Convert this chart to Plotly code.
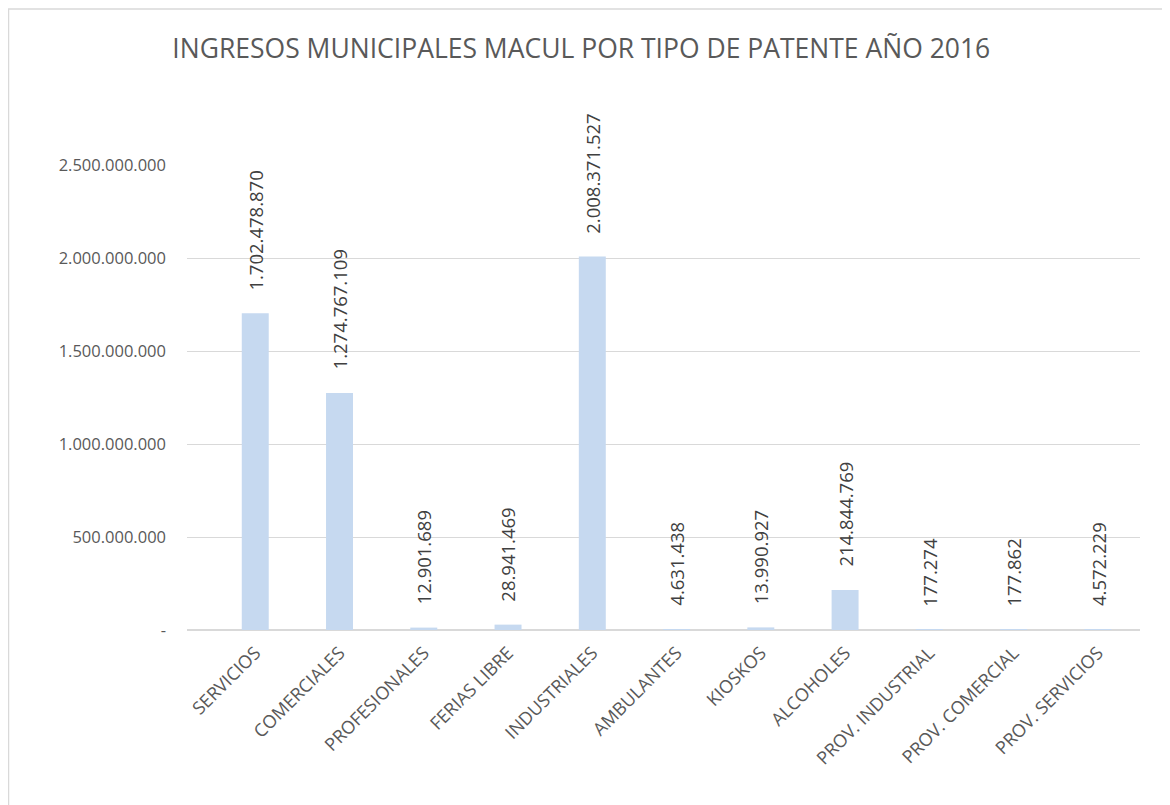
import plotly.graph_objects as go

# datos
categorias = ["SERVICIOS", "COMERCIALES", "PROFESIONALES", "FERIAS LIBRE", "INDUSTRIALES",
              "AMBULANTES", "KIOSKOS", "ALCOHOLES", "PROV. INDUSTRIAL", "PROV. COMERCIAL",
              "PROV. SERVICIOS"]
ingresos = [1702478870, 1274767109, 12901689, 28941469, 2008371527,
            4631438, 13990927, 214844769, 177274, 177862, 4572229]
y_ticks = [0, 500000000, 1000000000, 1500000000, 2000000000, 2500000000]
y_ticktext = ["-", "500.000.000", "1.000.000.000", "1.500.000.000", "2.000.000.000", "2.500.000.000"]


def fmt(v):
    return f"{v:,}".replace(",", ".")


fig = go.Figure()
fig.add_trace(go.Bar(
    x=categorias,
    y=ingresos,
    marker=dict(color="#c6d9f0", line=dict(width=0)),
    hoverinfo="x+y",
))

# etiquetas de datos
for cat, val in zip(categorias, ingresos):
    fig.add_annotation(
        x=cat, y=val, xref="x", yref="y",
        text=fmt(val), textangle=-90, showarrow=False,
        yanchor="bottom", yshift=21,
        font=dict(size=18.5, color="#404040", family="Open Sans"),
    )

# marco del gráfico
fig.add_shape(type="rect", xref="paper", yref="paper",
              x0=-0.1873, x1=1.2, y0=-0.6, y1=1.3355,
              line=dict(color="#d9d9d9", width=1.5), layer="below")

fig.update_layout(
    width=1170, height=805,
    margin=dict(l=179, r=38, t=157, b=183, autoexpand=False),
    paper_bgcolor="white", plot_bgcolor="white",
    title=dict(
        text="INGRESOS MUNICIPALES MACUL POR TIPO DE PATENTE AÑO 2016",
        x=0.49, xanchor="center", y=0.95, yanchor="middle",
        font=dict(size=26.5, family="Open Sans", color="#595959"),
    ),
    font=dict(family="Open Sans", color="#595959"),
    bargap=0.68,
    showlegend=False,
    xaxis=dict(
        range=[-0.81, 10.5],
        tickangle=-45, tickfont=dict(size=18, color="#595959"),
        showgrid=False, showline=False, ticks="", automargin=False,
        ticklabelstandoff=8,
    ),
    yaxis=dict(
        range=[0, 2500000000],
        tickvals=y_ticks, ticktext=y_ticktext,
        tickfont=dict(size=16.5, color="#595959"),
        showgrid=True, gridcolor="#d9d9d9", gridwidth=1,
        zeroline=True, zerolinecolor="#d9d9d9", zerolinewidth=2,
        showline=False, ticks="", ticklabelstandoff=20, automargin=False,
    ),
)

fig.write_html("out.html")
